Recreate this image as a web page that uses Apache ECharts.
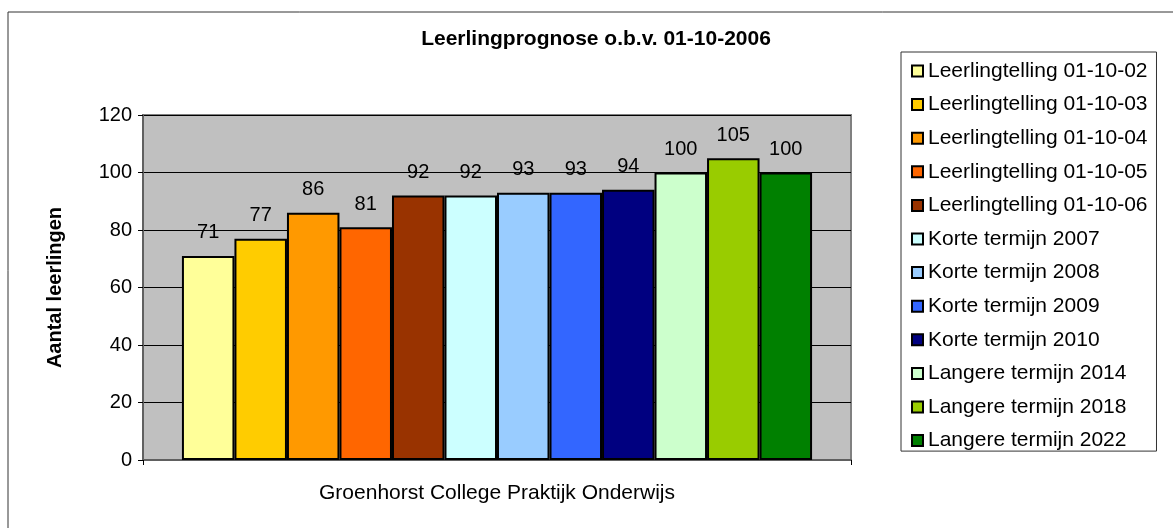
<!DOCTYPE html>
<html>
<head>
<meta charset="utf-8">
<script src="https://cdn.jsdelivr.net/npm/echarts@6/dist/echarts.min.js"></script>
<style>
  html, body { margin: 0; padding: 0; background: #fff; }
  #chart { width: 1173px; height: 528px; }
</style>
</head>
<body>
<div id="chart"></div>
<script>
// data
var categories = ['Groenhorst College Praktijk Onderwijs'];
var seriesNames = [
    'Leerlingtelling 01-10-02', 'Leerlingtelling 01-10-03', 'Leerlingtelling 01-10-04',
    'Leerlingtelling 01-10-05', 'Leerlingtelling 01-10-06', 'Korte termijn 2007',
    'Korte termijn 2008', 'Korte termijn 2009', 'Korte termijn 2010',
    'Langere termijn 2014', 'Langere termijn 2018', 'Langere termijn 2022'
];
var seriesValues = [71, 77, 86, 81, 92, 92, 93, 93, 94, 100, 105, 100];
var seriesColors = [
    '#FFFF99', '#FFCC00', '#FF9900', '#FF6600', '#993300', '#CCFFFF',
    '#99CCFF', '#3366FF', '#000080', '#CCFFCC', '#99CC00', '#008000'
];
var yTicks = [0, 20, 40, 60, 80, 100, 120];

var font = 'Arial, "Liberation Sans", sans-serif';

var myChart = echarts.init(document.getElementById('chart'));

var series = [];
for (var i = 0; i < seriesNames.length; i++) {
    series.push({
        name: seriesNames[i],
        type: 'bar',
        data: [seriesValues[i]],
        barGap: '0%',
        barCategoryGap: '11%',
        itemStyle: {
            color: seriesColors[i],
            borderColor: '#000',
            borderWidth: 2
        },
        label: {
            show: true,
            position: 'top',
            distance: 13,
            color: '#000',
            fontSize: 20,
            fontFamily: font
        },
        emphasis: { disabled: true }
    });
}

var option = {
    animation: false,
    backgroundColor: '#fff',
    graphic: [
        {
            type: 'rect',
            shape: { x: 8, y: 12, width: 1180, height: 530 },
            style: { fill: 'none', stroke: '#333', lineWidth: 1 },
            silent: true
        },
        {
            type: 'text',
            x: 596,
            y: 29,
            style: {
                text: 'Leerlingprognose o.b.v. 01-10-2006',
                fill: '#000',
                font: 'bold 21px ' + font,
                textAlign: 'center'
            }
        }
    ],
    legend: {
        orient: 'vertical',
        left: 901,
        top: 52,
        data: seriesNames,
        icon: 'rect',
        itemWidth: 11,
        itemHeight: 11,
        itemGap: 12.6,
        padding: [8.5, 9, 0, 10],
        borderColor: '#333',
        borderWidth: 1,
        backgroundColor: '#fff',
        selectedMode: false,
        itemStyle: { borderColor: '#000', borderWidth: 2 },
        textStyle: { color: '#000', fontSize: 21, fontFamily: font }
    },
    grid: {
        show: true,
        left: 143,
        right: 322,
        top: 115,
        bottom: 68,
        backgroundColor: '#C0C0C0',
        borderColor: '#808080',
        borderWidth: 2
    },
    xAxis: {
        type: 'category',
        data: categories,
        axisLine: { lineStyle: { color: '#606060', width: 2 } },
        axisTick: { show: true, length: 5, lineStyle: { color: '#000' } },
        axisLabel: { color: '#000', fontSize: 21, fontFamily: font, margin: 23 }
    },
    yAxis: {
        type: 'value',
        min: yTicks[0],
        max: yTicks[yTicks.length - 1],
        interval: 20,
        name: 'Aantal leerlingen',
        nameLocation: 'middle',
        nameGap: 78,
        nameTextStyle: { color: '#000', fontSize: 20, fontWeight: 'bold', fontFamily: font },
        axisLine: { show: true, lineStyle: { color: '#606060', width: 2 } },
        axisTick: { show: true, length: 5, lineStyle: { color: '#000' } },
        axisLabel: { color: '#000', fontSize: 20, fontFamily: font, margin: 11 },
        splitLine: { show: true, lineStyle: { color: '#000', width: 1 } }
    },
    series: series
};

myChart.setOption(option);
</script>
</body>
</html>
